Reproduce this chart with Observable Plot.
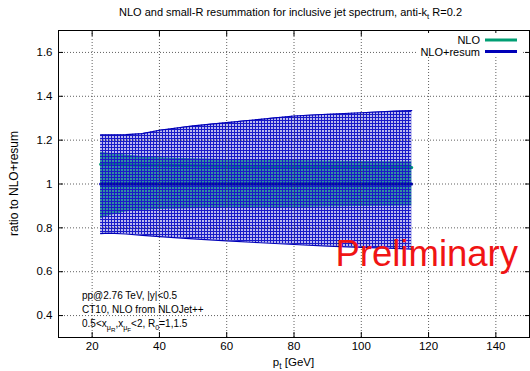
<!DOCTYPE html>
<html>
<head>
<meta charset="utf-8">
<script src="https://cdn.jsdelivr.net/npm/d3@7"></script>
<script src="https://cdn.jsdelivr.net/npm/@observablehq/plot@0.6"></script>
<style>
  body { margin: 0; background: #fff; }
  #chart svg { display: block; }
</style>
</head>
<body>
<div id="chart"></div>
<script>
// Jet transverse momentum (GeV) where the uncertainty bands are sampled
const pt = [22.5, 25, 30, 35, 40, 50, 60, 70, 80, 90, 100, 110, 115];

// NLO+resum: central value (normalisation) and scale-uncertainty envelope
const resumCentral = [1, 1, 1, 1, 1, 1, 1, 1, 1, 1, 1, 1, 1];
const resumUpper = [1.224, 1.224, 1.225, 1.230, 1.245, 1.265, 1.280, 1.295, 1.310, 1.318, 1.325, 1.332, 1.335];
const resumLower = [0.774, 0.776, 0.772, 0.766, 0.760, 0.750, 0.741, 0.732, 0.724, 0.717, 0.711, 0.706, 0.703];

// Plain NLO, as a ratio to NLO+resum
const nloCentral = [1.090, 1.090, 1.088, 1.086, 1.085, 1.083, 1.081, 1.079, 1.078, 1.077, 1.076, 1.075, 1.075];
const nloUpper = [1.145, 1.140, 1.132, 1.125, 1.120, 1.115, 1.112, 1.109, 1.107, 1.105, 1.103, 1.102, 1.101];
const nloLower = [0.840, 0.855, 0.872, 0.880, 0.884, 0.887, 0.889, 0.891, 0.893, 0.895, 0.897, 0.899, 0.900];

// Axis ticks
const xTicks = [20, 40, 60, 80, 100, 120, 140];
const xTickLabels = ["20", "40", "60", "80", "100", "120", "140"];
const yTicks = [0.4, 0.6, 0.8, 1.0, 1.2, 1.4, 1.6];
const yTickLabels = ["0.4", "0.6", "0.8", "1", "1.2", "1.4", "1.6"];

const seriesNames = ["NLO", "NLO+resum"];

const FONT = "'Liberation Sans', Arial, Helvetica, sans-serif";
const GREEN = "#009e73";
const GREEN_FILL = "#3cc48e";
const BLUE = "#0000b8";
const HATCH = "#1a1ac8";

const rows = pt.map((x, i) => ({
  pt: x,
  resum: resumCentral[i], resumHi: resumUpper[i], resumLo: resumLower[i],
  nlo: nloCentral[i], nloHi: nloUpper[i], nloLo: nloLower[i]
}));

const W = 530, H = 371;
const M = {top: 30, right: 1, bottom: 34, left: 58};

const xLabel = d => xTickLabels[xTicks.indexOf(d)];
const yLabel = d => yTickLabels[yTicks.indexOf(d)];
const gridStyle = {stroke: "#444", strokeOpacity: 0.85, strokeDasharray: "1,2"};

const plot = Plot.plot({
  width: W,
  height: H,
  marginTop: M.top,
  marginRight: M.right,
  marginBottom: M.bottom,
  marginLeft: M.left,
  style: {fontFamily: FONT, fontSize: "11px", color: "black", background: "white", overflow: "visible"},
  x: {domain: [10, 150]},
  y: {domain: [0.3, 1.7]},
  marks: [
    // NLO band and central line
    Plot.areaY(rows, {x: "pt", y1: "nloLo", y2: "nloHi", fill: GREEN_FILL}),
    Plot.lineY(rows, {x: "pt", y: "nlo", stroke: GREEN, strokeWidth: 3}),
    // NLO+resum band (hatched), its border, and central line
    Plot.areaY(rows, {x: "pt", y1: "resumLo", y2: "resumHi", fill: "url(#resumHatch)"}),
    Plot.lineY(rows, {x: "pt", y: "resumHi", stroke: BLUE, strokeWidth: 1.2}),
    Plot.lineY(rows, {x: "pt", y: "resumLo", stroke: BLUE, strokeWidth: 1.2}),
    Plot.lineY(rows, {x: "pt", y: "resum", stroke: BLUE, strokeWidth: 3}),
    // dotted grid
    Plot.gridX(xTicks, gridStyle),
    Plot.gridY(yTicks, gridStyle),
    // inward ticks on all four sides
    Plot.axisX(xTicks, {anchor: "bottom", tickSize: -5, tickPadding: 9, tickFormat: xLabel, label: null, fontSize: 11.5}),
    Plot.axisX(xTicks, {anchor: "top", tickSize: -5, tickFormat: () => "", label: null}),
    Plot.axisY(yTicks, {anchor: "left", tickSize: -5, tickPadding: 11, tickFormat: yLabel, label: null, fontSize: 11.5}),
    Plot.axisY(yTicks, {anchor: "right", tickSize: -5, tickFormat: () => "", label: null}),
    Plot.frame({stroke: "black", strokeWidth: 1})
  ]
});

document.getElementById("chart").appendChild(plot);

const svg = d3.select(plot);

// Hatch pattern for the NLO+resum band: blue mesh with see-through cells
const defs = svg.insert("defs", ":first-child");
const pat = defs.append("pattern")
  .attr("id", "resumHatch")
  .attr("patternUnits", "userSpaceOnUse")
  .attr("width", 3).attr("height", 3);
pat.append("rect").attr("width", 3).attr("height", 3).attr("fill", HATCH).attr("fill-opacity", 0.3);
pat.append("path").attr("d", "M0,0h3v1h-3z M0,1h1v2h-1z").attr("fill", HATCH);

const fx0 = M.left, fx1 = W - M.right, fy0 = M.top, fy1 = H - M.bottom;
const fcx = (fx0 + fx1) / 2, fcy = (fy0 + fy1) / 2;

// helper: text with tspans; parts = [[string, level]], level 0 = baseline, 1 = subscript, 2 = sub-subscript
function richText(g, x, y, parts, size, anchor) {
  const t = g.append("text")
    .attr("x", x).attr("y", y)
    .attr("font-family", FONT)
    .attr("font-size", size)
    .attr("text-anchor", anchor || "start")
    .attr("fill", "black");
  let level = 0;
  const shift = [0, size * 0.3, size * 0.5];
  for (const [s, lv] of parts) {
    const ts = t.append("tspan").text(s);
    ts.attr("dy", shift[lv] - shift[level]);
    if (lv > 0) ts.attr("font-size", size * (lv === 1 ? 0.72 : 0.62));
    level = lv;
  }
  return t;
}

const ann = svg.append("g");

// Title
richText(ann, fcx - 3, 16, [
  ["NLO and small-R resummation for inclusive jet spectrum, anti-k", 0],
  ["t", 1],
  [" R=0.2", 0]
], 11, "middle");

// Axis labels
richText(ann, fcx, 366, [["p", 0], ["t", 1], [" [GeV]", 0]], 11.5, "middle");
ann.append("text")
  .attr("transform", `translate(18,${fcy}) rotate(-90)`)
  .attr("text-anchor", "middle")
  .attr("font-family", FONT)
  .attr("font-size", 12)
  .text("ratio to NLO+resum");

// Run conditions
richText(ann, 82, 299, [["pp@2.76 TeV, |y|<0.5", 0]], 10);
richText(ann, 82, 313, [["CT10, NLO from NLOJet++", 0]], 10);
richText(ann, 82, 327, [
  ["0.5<x", 0], ["μ", 1], ["R", 2], [",x", 0], ["μ", 1], ["F", 2], ["<2, R", 0], ["0", 1], ["=1,1.5", 0]
], 10);

// Preliminary stamp
ann.append("text")
  .attr("x", fx1 - 11).attr("y", 266)
  .attr("text-anchor", "end")
  .attr("font-family", FONT)
  .attr("font-size", 36.5)
  .attr("fill", "#f01414")
  .text("Preliminary");

// Key
const key = svg.append("g");
key.append("rect").attr("x", 418).attr("y", 33).attr("width", 105).attr("height", 24).attr("fill", "white");
const keyColors = [GREEN, BLUE];
seriesNames.forEach((name, i) => {
  const cy = 40 + i * 11.5;
  key.append("text")
    .attr("x", 480).attr("y", cy + 4)
    .attr("text-anchor", "end")
    .attr("font-family", FONT)
    .attr("font-size", 11)
    .text(name);
  key.append("line")
    .attr("x1", 485).attr("x2", 517)
    .attr("y1", cy).attr("y2", cy)
    .attr("stroke", keyColors[i]).attr("stroke-width", 3);
});
</script>
</body>
</html>
